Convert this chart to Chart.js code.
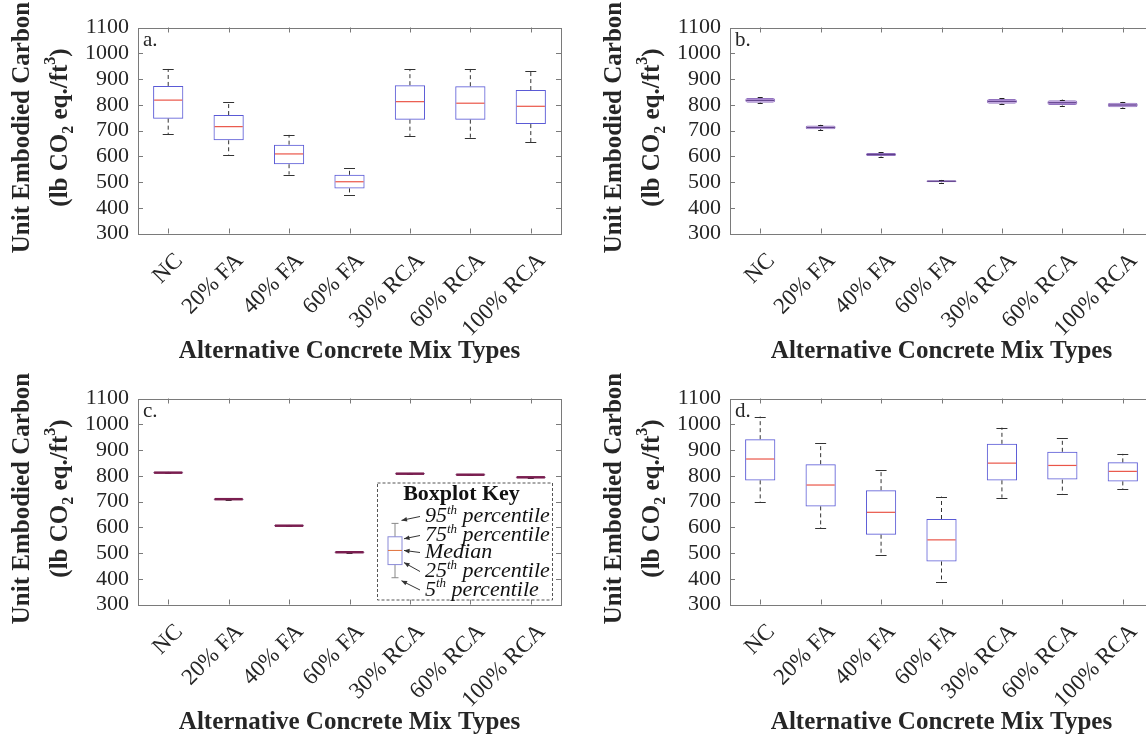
<!DOCTYPE html>
<html lang="en">
<head>
<meta charset="UTF-8">
<title>Unit Embodied Carbon by Mix Type</title>
<style>
    body { margin: 0; background: #fff; width: 1146px; height: 740px; overflow: hidden; position: relative; }
    canvas { position: absolute; }
    #chartA { left: 0; top: 0; }
    #chartB { left: 592px; top: 0; }
    #chartC { left: 0; top: 371px; }
    #chartD { left: 592px; top: 371px; }
</style>
</head>
<body>
<canvas id="chartA" width="573" height="370"></canvas>
<canvas id="chartB" width="573" height="370"></canvas>
<canvas id="chartC" width="573" height="370"></canvas>
<canvas id="chartD" width="573" height="370"></canvas>
<script src="https://cdn.jsdelivr.net/npm/chart.js@4.4.0/dist/chart.umd.min.js"></script>
<script>
const mixTypes = ['NC', '20% FA', '40% FA', '60% FA', '30% RCA', '60% RCA', '100% RCA'];
const yMin = 300, yMax = 1100, yStep = 100;

// a.
const aP5  = [685, 606, 529, 450, 677, 671, 654];
const aP25 = [746, 662, 569, 475, 742, 742, 725];
const aMed = [818, 715, 609, 501, 812, 806, 794];
const aP75 = [873, 760, 645, 528, 876, 872, 857];
const aP95 = [939, 812, 683, 554, 939, 939, 933];
// b.
const bP5  = [805, 702, 599, 498, 802, 797, 788];
const bP25 = [808, 705, 601, 499, 804, 799, 790];
const bMed = [817, 712, 607, 503, 813, 808, 799];
const bP75 = [826, 719, 613, 507, 822, 817, 808];
const bP95 = [829, 722, 615, 508, 825, 820, 811];
// c.
const cP5  = [809, 706, 603, 500, 805, 801, 791];
const cP25 = [810, 707, 604, 501, 806, 802, 792];
const cMed = [812, 709, 606, 503, 808, 804, 794];
const cP75 = [814, 711, 608, 505, 810, 806, 796];
const cP95 = [815, 712, 609, 506, 811, 807, 797];
// d.
const dP5  = [699, 596, 492, 388, 715, 730, 747];
const dP25 = [782, 681, 571, 467, 782, 785, 778];
const dMed = [865, 764, 658, 551, 849, 840, 817];
const dP75 = [942, 845, 744, 632, 924, 893, 852];
const dP95 = [1030, 926, 823, 719, 987, 946, 885];

// boxplot key (drawn in c.)
const keyValues = [615, 563, 510, 455, 404];   // 95th, 75th, median, 25th, 5th
const keyLabels = [['95', 'th', ' percentile'], ['75', 'th', ' percentile'], ['Median'], ['25', 'th', ' percentile'], ['5', 'th', ' percentile']];

const SERIF = '"Liberation Serif", "Times New Roman", serif';
const INK = '#262626';

// whiskers, caps and medians on top of the floating bars
const boxWhiskers = {
    id: 'boxWhiskers',
    afterDatasetsDraw(chart, args, o) {
        const { ctx, scales: { x, y } } = chart;
        const meta = chart.getDatasetMeta(0);
        const s = o.stats;
        ctx.save();
        s.med.forEach((m, i) => {
            const cx = x.getPixelForValue(i);
            const half = meta.data[i].width / 2;
            const cap = o.capWidth / 2;
            ctx.strokeStyle = o.whiskerColor;
            ctx.lineWidth = 1;
            ctx.setLineDash(o.dash);
            ctx.beginPath();
            ctx.moveTo(cx, y.getPixelForValue(s.p75[i]));
            ctx.lineTo(cx, y.getPixelForValue(s.p95[i]));
            ctx.moveTo(cx, y.getPixelForValue(s.p25[i]));
            ctx.lineTo(cx, y.getPixelForValue(s.p5[i]));
            ctx.stroke();
            ctx.setLineDash([]);
            ctx.beginPath();
            [s.p95[i], s.p5[i]].forEach(v => {
                const py = Math.round(y.getPixelForValue(v)) + 0.5;
                ctx.moveTo(cx - cap, py);
                ctx.lineTo(cx + cap, py);
            });
            ctx.stroke();
            ctx.strokeStyle = o.medianColor;
            ctx.lineWidth = o.medianWidth;
            ctx.beginPath();
            const my = y.getPixelForValue(m);
            ctx.moveTo(cx - half + 1, my);
            ctx.lineTo(cx + half - 1, my);
            ctx.stroke();
        });
        ctx.restore();
    }
};

// axes box with inward ticks, panel letter and the two-line y title
const frame = {
    id: 'frame',
    afterDraw(chart, args, o) {
        const { ctx, chartArea: a, scales: { x, y } } = chart;
        ctx.save();
        ctx.strokeStyle = '#7a7a7a';
        ctx.lineWidth = 1;
        ctx.strokeRect(Math.round(a.left) + 0.5, Math.round(a.top) + 0.5, Math.round(a.right - a.left), Math.round(a.bottom - a.top));
        ctx.beginPath();
        x.ticks.forEach((t, i) => {
            const px = Math.round(x.getPixelForTick(i)) + 0.5;
            ctx.moveTo(px, a.bottom); ctx.lineTo(px, a.bottom - 5);
            ctx.moveTo(px, a.top); ctx.lineTo(px, a.top + 5);
        });
        y.ticks.forEach((t, i) => {
            const py = Math.round(y.getPixelForTick(i)) + 0.5;
            ctx.moveTo(a.left, py); ctx.lineTo(a.left + 5, py);
            ctx.moveTo(a.right, py); ctx.lineTo(a.right - 5, py);
        });
        ctx.stroke();

        ctx.fillStyle = INK;
        ctx.font = '21px ' + SERIF;
        ctx.textBaseline = 'alphabetic';
        ctx.textAlign = 'left';
        ctx.fillText(o.letter, a.left + 5, a.top + 18);

        // y title
        const cy = (a.top + a.bottom) / 2 - 3;
        const big = 'bold 25px ' + SERIF, small = 'bold 16px ' + SERIF;
        ctx.save();
        ctx.translate(23, cy);
        ctx.rotate(-Math.PI / 2);
        ctx.font = big;
        ctx.textAlign = 'center';
        ctx.textBaseline = 'middle';
        ctx.fillText('Unit Embodied Carbon', 0, 0);
        ctx.restore();

        const parts = [['(lb CO', big, 0], ['2', small, 8], [' eq./ft', big, 0], ['3', small, -10], [')', big, 0]];
        ctx.save();
        ctx.translate(61, cy);
        ctx.rotate(-Math.PI / 2);
        ctx.textAlign = 'left';
        ctx.textBaseline = 'middle';
        let total = 0;
        parts.forEach(p => { ctx.font = p[1]; total += ctx.measureText(p[0]).width; });
        let px = -total / 2;
        parts.forEach(p => {
            ctx.font = p[1];
            ctx.fillText(p[0], px, p[2]);
            px += ctx.measureText(p[0]).width;
        });
        ctx.restore();
        ctx.restore();
    }
};

// legend box explaining the percentiles
const boxKey = {
    id: 'boxKey',
    afterDraw(chart, args, o) {
        if (!o.show) return;
        const { ctx, chartArea: a, scales: { y } } = chart;
        const L = a.left + 239, R = a.right - 9, T = a.top + 84, B = a.bottom - 5;
        ctx.save();
        ctx.fillStyle = '#fff';
        ctx.fillRect(L, T, R - L, B - T);
        ctx.strokeStyle = '#555';
        ctx.lineWidth = 1;
        ctx.setLineDash([3, 2]);
        ctx.strokeRect(L + 0.5, T + 0.5, R - L, B - T);
        ctx.setLineDash([]);

        ctx.fillStyle = '#111';
        ctx.font = 'bold 22px ' + SERIF;
        ctx.textAlign = 'center';
        ctx.textBaseline = 'middle';
        ctx.fillText('Boxplot Key', (L + R) / 2 - 3, T + 12);

        // mini boxplot
        const cx = L + 18, hw = 7, cap = 3.5;
        const [p95, p75, med, p25, p5] = keyValues.map(v => y.getPixelForValue(v));
        ctx.strokeStyle = '#888';
        ctx.beginPath();
        ctx.moveTo(cx, p95); ctx.lineTo(cx, p75);
        ctx.moveTo(cx, p25); ctx.lineTo(cx, p5);
        ctx.moveTo(cx - cap, p95); ctx.lineTo(cx + cap, p95);
        ctx.moveTo(cx - cap, p5); ctx.lineTo(cx + cap, p5);
        ctx.stroke();
        ctx.strokeStyle = '#8a8ad8';
        ctx.strokeRect(cx - hw, p75, hw * 2, p25 - p75);
        ctx.strokeStyle = '#e0703a';
        ctx.beginPath();
        ctx.moveTo(cx - hw, med); ctx.lineTo(cx + hw, med);
        ctx.stroke();

        // labels and arrows
        const rows = [T + 34, T + 53, T + 70, T + 89, T + 107.5];
        const targets = [[cx + cap + 3, p95 - 3], [cx + hw + 2, p75 + 2], [cx + hw + 2, med], [cx + hw + 2, p25 - 2], [cx + cap + 3, p5 + 3]];
        const tx = L + 48;
        rows.forEach((ry, i) => {
            let px = tx;
            keyLabels[i].forEach((txt, j) => {
                const sup = keyLabels[i].length > 1 && j === 1;
                ctx.font = 'italic ' + (sup ? 13 : 22) + 'px ' + SERIF;
                ctx.textAlign = 'left';
                ctx.fillText(txt, px, ry + (sup ? -6 : 0));
                px += ctx.measureText(txt).width;
            });
            const [hx, hy] = targets[i];
            const sx = tx - 5, sy = ry;
            const ang = Math.atan2(hy - sy, hx - sx);
            ctx.strokeStyle = '#333';
            ctx.fillStyle = '#333';
            ctx.beginPath();
            ctx.moveTo(sx, sy); ctx.lineTo(hx, hy);
            ctx.stroke();
            ctx.beginPath();
            ctx.moveTo(hx, hy);
            ctx.lineTo(hx - 6 * Math.cos(ang - 0.4), hy - 6 * Math.sin(ang - 0.4));
            ctx.lineTo(hx - 6 * Math.cos(ang + 0.4), hy - 6 * Math.sin(ang + 0.4));
            ctx.closePath();
            ctx.fill();
            ctx.fillStyle = '#111';
        });
        ctx.restore();
    }
};

const styles = {
    plain:  { fill: 'rgba(0,0,0,0)', box: '#5a5ad6', width: 1, radius: 0, median: '#ea5548', medianWidth: 1.2, whisker: '#333', dash: [4, 3], cap: 11 },
    purple: { fill: 'rgb(182,150,218)', box: '#9272bf', width: 1, radius: 3, median: '#5b3c85', medianWidth: 1, whisker: '#222', dash: [], cap: 5 },
    thin:   { fill: 'rgba(0,0,0,0)', box: '#55225f', width: 1.2, radius: 0, median: '#7a1e50', medianWidth: 2.5, whisker: '#333', dash: [], cap: 6 }
};

function makePanel(id, letter, p5, p25, med, p75, p95, st, showKey) {
    new Chart(document.getElementById(id), {
        type: 'bar',
        data: {
            labels: mixTypes,
            datasets: [{
                data: p25.map((v, i) => [v, p75[i]]),
                backgroundColor: st.fill,
                borderColor: st.box,
                borderWidth: st.width,
                borderRadius: st.radius,
                borderSkipped: false,
                barPercentage: 0.5,
                categoryPercentage: 1
            }]
        },
        options: {
            responsive: false,
            animation: false,
            devicePixelRatio: 1,
            layout: { padding: { top: 27.5, right: 12, left: 0, bottom: 0 } },
            plugins: {
                legend: { display: false },
                tooltip: { enabled: false },
                boxWhiskers: {
                    stats: { p5, p25, med, p75, p95 },
                    whiskerColor: st.whisker, medianColor: st.median, medianWidth: st.medianWidth,
                    dash: st.dash, capWidth: st.cap
                },
                frame: { letter },
                boxKey: { show: showKey }
            },
            scales: {
                x: {
                    grid: { display: false, drawTicks: false },
                    border: { display: false },
                    ticks: {
                        color: INK, font: { family: SERIF, size: 23 },
                        maxRotation: 45, minRotation: 45, padding: 14, labelOffset: 11, autoSkip: false
                    },
                    title: {
                        display: true, text: 'Alternative Concrete Mix Types', color: INK,
                        font: { family: SERIF, size: 25, weight: 'bold' }, padding: { top: 0, bottom: 3 }
                    },
                    afterFit: s => { s.height = 136.5; }
                },
                y: {
                    min: yMin, max: yMax,
                    grid: { display: false, drawTicks: false },
                    border: { display: false },
                    ticks: {
                        stepSize: yStep, autoSkip: false, color: INK,
                        font: { family: SERIF, size: 22 }, padding: 9,
                        callback: v => String(v)
                    },
                    afterFit: s => { s.width = 138; }
                }
            }
        },
        plugins: [boxWhiskers, frame, boxKey]
    });
}

makePanel('chartA', 'a.', aP5, aP25, aMed, aP75, aP95, styles.plain, false);
makePanel('chartB', 'b.', bP5, bP25, bMed, bP75, bP95, styles.purple, false);
makePanel('chartC', 'c.', cP5, cP25, cMed, cP75, cP95, styles.thin, true);
makePanel('chartD', 'd.', dP5, dP25, dMed, dP75, dP95, styles.plain, false);
</script>
</body>
</html>
